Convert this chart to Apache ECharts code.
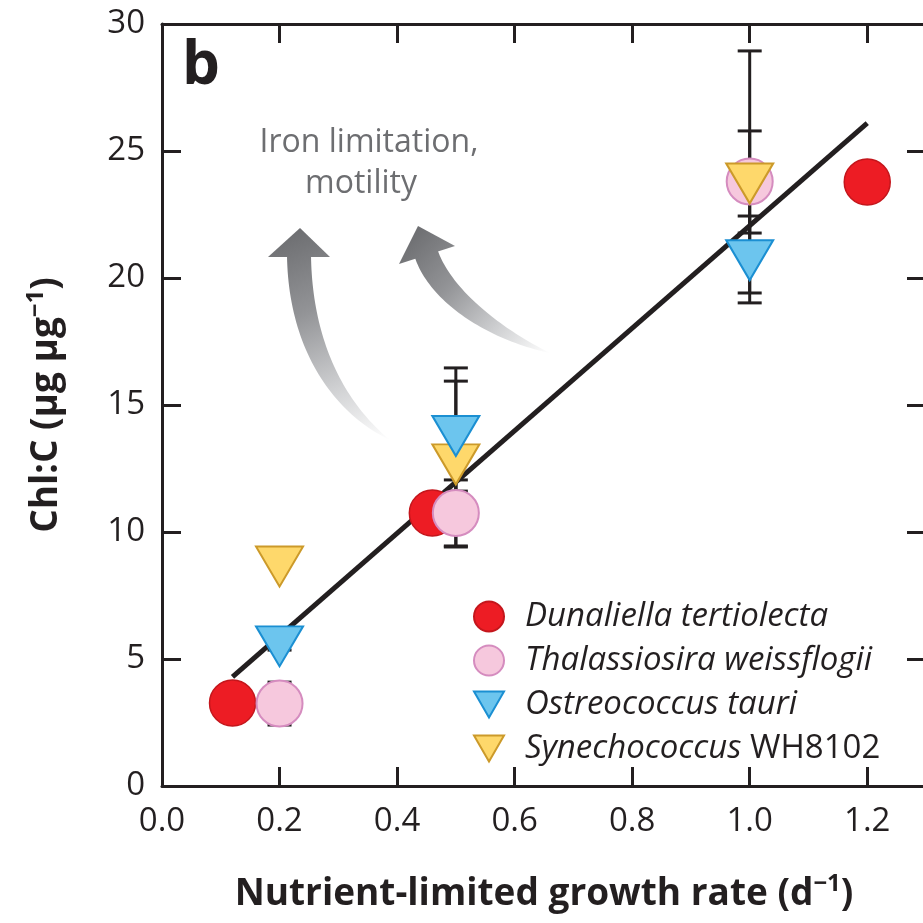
<!DOCTYPE html>
<html>
<head>
<meta charset="utf-8">
<script src="https://cdn.jsdelivr.net/npm/echarts@6/dist/echarts.min.js"></script>
<style>
  html, body { margin: 0; padding: 0; overflow: hidden; background: #ffffff; }
  #chart { width: 930px; height: 923px; }
</style>
</head>
<body>
<div id="chart"></div>
<script>
// Chl:C versus nutrient-limited growth rate for four phytoplankton taxa
const speciesNames = ['Dunaliella tertiolecta', 'Thalassiosira weissflogii', 'Ostreococcus tauri', 'Synechococcus WH8102'];

// [growth rate (d^-1), Chl:C (ug ug^-1)]
const dunaliella    = [[0.12, 3.27], [0.46, 10.75], [1.2, 23.78]];
const thalassiosira = [[0.2, 3.25], [0.5, 10.75], [1.0, 23.8]];
const ostreococcus  = [[0.2, 5.5], [0.5, 13.78], [1.0, 20.7]];
const synechococcus = [[0.2, 8.64], [0.5, 12.66], [1.0, 23.72]];

// error bars: [growth rate, lower, upper]
const thalassiosiraErr = [[0.2, 2.4, 4.09], [0.5, 9.45, 12.05], [1.0, 19.02, 28.94]];
const ostreococcusErr  = [[0.2, 5.35, 6.0], [0.5, 11.61, 16.46], [1.0, 19.41, 22.44]];
const synechococcusErr = [[0.5, 9.41, 15.94], [1.0, 21.77, 25.79]];

// linear fit across all taxa
const fitLine = [[0.12, 4.3], [1.2, 26.1]];

const INK = '#231f20';
const FONT = '"Open Sans", "Noto Sans", sans-serif';
const DOWN_TRIANGLE = 'path://M0,0L2,0L1,1.732Z';
// legend triangle inside a square box so it keeps its proportions
const LEGEND_TRIANGLE = 'path://M0,2L30,2L15,28ZM15,0L15,0ZM15,30L15,30Z';

function errorBarItem(params, api) {
  const x = api.value(0);
  const top = api.coord([x, api.value(2)]);
  const bot = api.coord([x, api.value(1)]);
  const half = 12;
  const style = { stroke: INK, lineWidth: 3 };
  return {
    type: 'group',
    children: [
      { type: 'line', shape: { x1: top[0], y1: top[1], x2: bot[0], y2: bot[1] }, style },
      { type: 'line', shape: { x1: top[0] - half, y1: top[1], x2: top[0] + half, y2: top[1] }, style },
      { type: 'line', shape: { x1: bot[0] - half, y1: bot[1], x2: bot[0] + half, y2: bot[1] }, style }
    ]
  };
}

function errorSeries(data) {
  return {
    type: 'custom',
    renderItem: errorBarItem,
    data: data,
    encode: { x: 0, y: [1, 2] },
    z: 3,
    silent: true
  };
}

// curved, tapering arrow drawn as polygons with a fading gradient
function cubic(p0, p1, p2, p3, t) {
  const u = 1 - t;
  return [
    u * u * u * p0[0] + 3 * u * u * t * p1[0] + 3 * u * t * t * p2[0] + t * t * t * p3[0],
    u * u * u * p0[1] + 3 * u * u * t * p1[1] + 3 * u * t * t * p2[1] + t * t * t * p3[1]
  ];
}
function cubicTangent(p0, p1, p2, p3, t) {
  const u = 1 - t;
  return [
    3 * u * u * (p1[0] - p0[0]) + 6 * u * t * (p2[0] - p1[0]) + 3 * t * t * (p3[0] - p2[0]),
    3 * u * u * (p1[1] - p0[1]) + 6 * u * t * (p2[1] - p1[1]) + 3 * t * t * (p3[1] - p2[1])
  ];
}
function shaftPoints(ctrl, halfWidth) {
  const left = [], right = [];
  const n = 48;
  for (let i = 0; i <= n; i++) {
    const t = i / n;
    const p = cubic(ctrl[0], ctrl[1], ctrl[2], ctrl[3], t);
    const d = cubicTangent(ctrl[0], ctrl[1], ctrl[2], ctrl[3], t);
    const len = Math.hypot(d[0], d[1]) || 1;
    const nx = -d[1] / len, ny = d[0] / len;
    const w = halfWidth * (1 - t * t);
    left.push([p[0] + nx * w, p[1] + ny * w]);
    right.push([p[0] - nx * w, p[1] - ny * w]);
  }
  return left.concat(right.reverse());
}
function arrowGraphics(head, ctrl, from, to) {
  const fill = {
    type: 'linear', x: from[0], y: from[1], x2: to[0], y2: to[1], global: true,
    colorStops: [
      { offset: 0, color: '#6d6e71' },
      { offset: 0.35, color: '#939497' },
      { offset: 0.7, color: '#cfd0d2' },
      { offset: 1, color: '#ffffff' }
    ]
  };
  return [
    { type: 'polygon', shape: { points: shaftPoints(ctrl, 12) }, style: { fill: fill }, silent: true, z: 1 },
    { type: 'polygon', shape: { points: head }, style: { fill: fill }, silent: true, z: 1 }
  ];
}

const leftArrow = arrowGraphics(
  [[300, 228], [268, 257], [330, 257]],
  [[299, 255], [300, 340], [335, 405], [390, 440]],
  [300, 228], [390, 440]
);
const rightArrow = arrowGraphics(
  [[418, 226], [399, 264], [455, 246]],
  [[426, 253], [439, 293], [490, 332], [550, 353]],
  [418, 226], [550, 353]
);

const axisLine = { show: true, onZero: false, lineStyle: { color: INK, width: 3 } };
const axisTick = { show: true, inside: true, length: 19, lineStyle: { color: INK, width: 3 } };

const chart = echarts.init(document.getElementById('chart'), null, { renderer: 'canvas' });

chart.setOption({
  backgroundColor: '#ffffff',
  animation: false,
  grid: { left: 162, right: 4, top: 24, bottom: 137, containLabel: false },
  xAxis: [
    {
      type: 'value', min: 0, max: 1.3, interval: 0.2, position: 'bottom',
      axisLine, axisTick, splitLine: { show: false },
      axisLabel: {
        formatter: v => v.toFixed(1), fontSize: 33, color: INK, fontFamily: FONT,
        margin: 19, showMaxLabel: false
      },
      name: 'Nutrient-limited growth rate (d{sup|−1})',
      nameLocation: 'middle', nameGap: 86,
      nameTextStyle: {
        fontSize: 37, fontWeight: 'bold', color: INK, fontFamily: FONT,
        rich: { sup: { fontSize: 24, fontWeight: 'bold', color: INK, fontFamily: FONT, padding: [0, 0, 20, 0] } }
      }
    },
    {
      type: 'value', min: 0, max: 1.3, interval: 0.2, position: 'top',
      axisLine, axisTick, splitLine: { show: false }, axisLabel: { show: false }
    }
  ],
  yAxis: [
    {
      type: 'value', min: 0, max: 30, interval: 5, position: 'left',
      axisLine, axisTick, splitLine: { show: false },
      axisLabel: { fontSize: 33, color: INK, fontFamily: FONT, margin: 17 },
      name: 'Chl:C (μg μg{sup|−1})',
      nameLocation: 'middle', nameGap: 94, nameRotate: 90,
      nameTextStyle: {
        fontSize: 37, fontWeight: 'bold', color: INK, fontFamily: FONT,
        rich: { sup: { fontSize: 24, fontWeight: 'bold', color: INK, fontFamily: FONT, padding: [0, 0, 20, 0] } }
      }
    },
    {
      type: 'value', min: 0, max: 30, interval: 5, position: 'right',
      axisLine, axisTick, splitLine: { show: false }, axisLabel: { show: false }
    }
  ],
  legend: {
    data: [
      { name: speciesNames[0], icon: 'circle' },
      { name: speciesNames[1], icon: 'circle' },
      { name: speciesNames[2], icon: LEGEND_TRIANGLE },
      { name: speciesNames[3], icon: LEGEND_TRIANGLE }
    ],
    orient: 'vertical', left: 468, top: 595,
    itemWidth: 30, itemHeight: 30, itemGap: 11,
    selectedMode: false,
    formatter: name => name === 'Synechococcus WH8102' ? 'Synechococcus {up|WH8102}' : name,
    textStyle: {
      fontFamily: FONT, fontSize: 33, fontStyle: 'italic', color: INK,
      lineHeight: 30, padding: [0, 0, 0, 16],
      rich: { up: { fontFamily: FONT, fontSize: 33, fontStyle: 'normal', color: INK, lineHeight: 30 } }
    }
  },
  graphic: [
    ...leftArrow,
    ...rightArrow,
    { type: 'text', x: 369, y: 143, z: 2, style: { text: 'Iron limitation,', font: '32px ' + FONT, fill: '#6d6e71', align: 'center', verticalAlign: 'middle' } },
    { type: 'text', x: 361, y: 184, z: 2, style: { text: 'motility', font: '32px ' + FONT, fill: '#6d6e71', align: 'center', verticalAlign: 'middle' } },
    { type: 'text', x: 182, y: 67, z: 2, style: { text: 'b', font: 'bold 60px ' + FONT, fill: INK, align: 'left', verticalAlign: 'middle' } }
  ],
  series: [
    {
      type: 'line', data: fitLine, showSymbol: false, symbol: 'none', z: 2, silent: true,
      lineStyle: { color: INK, width: 5 }
    },
    errorSeries(thalassiosiraErr),
    errorSeries(ostreococcusErr),
    errorSeries(synechococcusErr),
    {
      name: speciesNames[0], type: 'scatter', data: dunaliella, z: 4,
      symbol: 'circle', symbolSize: 46,
      itemStyle: { color: '#ed1c24', borderColor: '#c4161c', borderWidth: 1.5, opacity: 1 }
    },
    {
      name: speciesNames[1], type: 'scatter', data: thalassiosira, z: 5,
      symbol: 'circle', symbolSize: 46,
      itemStyle: { color: '#f6c8dd', borderColor: '#d58cbf', borderWidth: 2, opacity: 1 }
    },
    {
      name: speciesNames[3], type: 'scatter', data: synechococcus, z: 6,
      symbol: DOWN_TRIANGLE, symbolSize: [47, 40],
      itemStyle: { color: '#fed86b', borderColor: '#cc9a2a', borderWidth: 2, opacity: 1 }
    },
    {
      name: speciesNames[2], type: 'scatter', data: ostreococcus, z: 7,
      symbol: DOWN_TRIANGLE, symbolSize: [47, 40],
      itemStyle: { color: '#6cc5ee', borderColor: '#1b8fd2', borderWidth: 2, opacity: 1 }
    }
  ]
});
</script>
</body>
</html>
